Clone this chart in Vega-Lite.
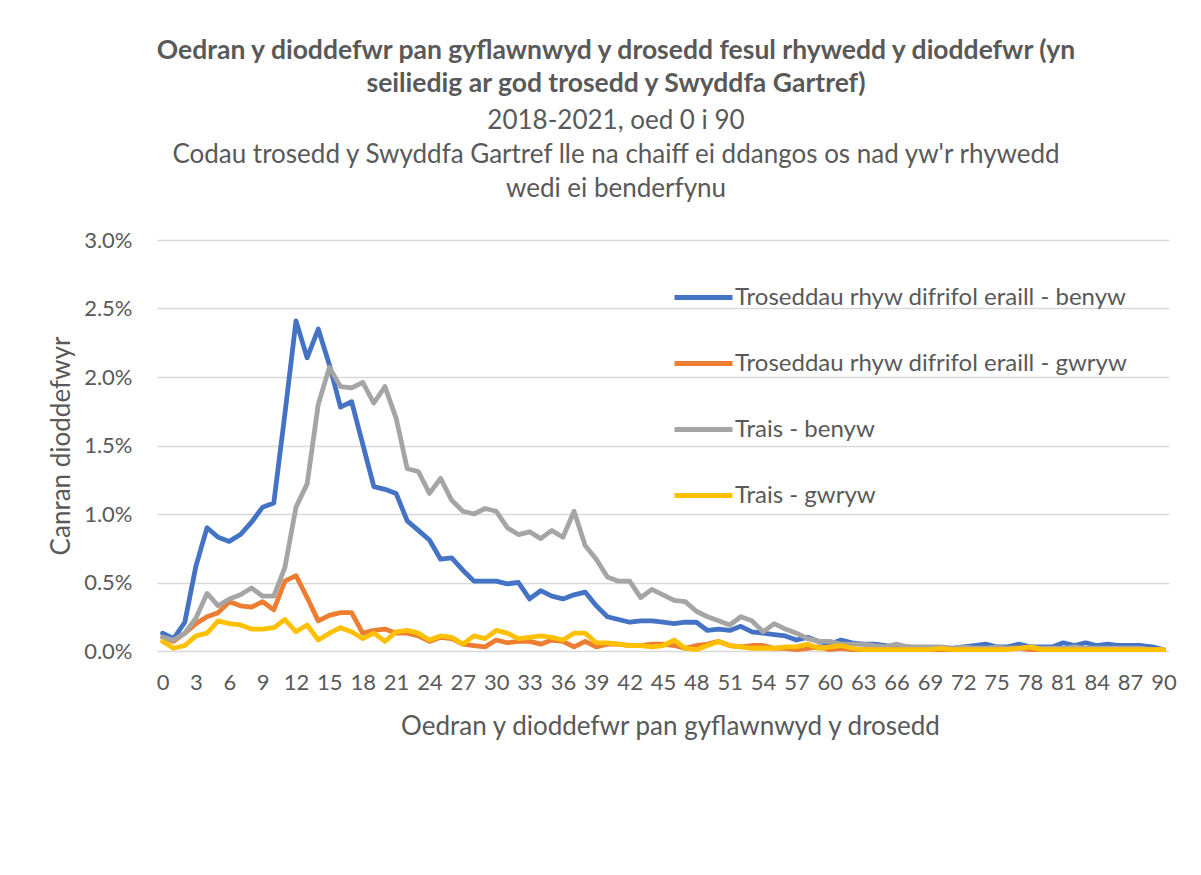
{
  "$schema": "https://vega.github.io/schema/vega-lite/v6.json",
  "width": 1012,
  "height": 411,
  "autosize": {"type": "none"},
  "padding": {"left": 157, "top": 240, "right": 32, "bottom": 224},
  "background": "white",
  "config": {"view": {"stroke": null}, "font": "Lato"},
  "title": {
    "text": ["Oedran y dioddefwr pan gyflawnwyd y drosedd fesul rhywedd y dioddefwr (yn", "seiliedig ar god trosedd y Swyddfa Gartref)"],
    "subtitle": ["2018-2021, oed 0 i 90", "Codau trosedd y Swyddfa Gartref lle na chaiff ei ddangos os nad yw'r rhywedd", "wedi ei benderfynu"],
    "anchor": "middle",
    "dx": -47,
    "offset": 27,
    "font": "Lato",
    "fontSize": 26.5,
    "fontWeight": "bold",
    "color": "#595959",
    "lineHeight": 33,
    "subtitleFont": "Lato",
    "subtitleFontSize": 26,
    "subtitleColor": "#595959",
    "subtitleLineHeight": 34,
    "subtitlePadding": 11
  },
  "data": {"values": [
    {"age":0,"Troseddau rhyw difrifol eraill - benyw":0.13,"Troseddau rhyw difrifol eraill - gwryw":0.10,"Trais - benyw":0.10,"Trais - gwryw":0.07},
    {"age":1,"Troseddau rhyw difrifol eraill - benyw":0.09,"Troseddau rhyw difrifol eraill - gwryw":0.07,"Trais - benyw":0.08,"Trais - gwryw":0.02},
    {"age":2,"Troseddau rhyw difrifol eraill - benyw":0.21,"Troseddau rhyw difrifol eraill - gwryw":0.13,"Trais - benyw":0.13,"Trais - gwryw":0.04},
    {"age":3,"Troseddau rhyw difrifol eraill - benyw":0.62,"Troseddau rhyw difrifol eraill - gwryw":0.20,"Trais - benyw":0.24,"Trais - gwryw":0.11},
    {"age":4,"Troseddau rhyw difrifol eraill - benyw":0.90,"Troseddau rhyw difrifol eraill - gwryw":0.25,"Trais - benyw":0.42,"Trais - gwryw":0.13},
    {"age":5,"Troseddau rhyw difrifol eraill - benyw":0.83,"Troseddau rhyw difrifol eraill - gwryw":0.28,"Trais - benyw":0.33,"Trais - gwryw":0.22},
    {"age":6,"Troseddau rhyw difrifol eraill - benyw":0.80,"Troseddau rhyw difrifol eraill - gwryw":0.36,"Trais - benyw":0.38,"Trais - gwryw":0.20},
    {"age":7,"Troseddau rhyw difrifol eraill - benyw":0.85,"Troseddau rhyw difrifol eraill - gwryw":0.33,"Trais - benyw":0.41,"Trais - gwryw":0.19},
    {"age":8,"Troseddau rhyw difrifol eraill - benyw":0.94,"Troseddau rhyw difrifol eraill - gwryw":0.32,"Trais - benyw":0.46,"Trais - gwryw":0.16},
    {"age":9,"Troseddau rhyw difrifol eraill - benyw":1.05,"Troseddau rhyw difrifol eraill - gwryw":0.36,"Trais - benyw":0.40,"Trais - gwryw":0.16},
    {"age":10,"Troseddau rhyw difrifol eraill - benyw":1.08,"Troseddau rhyw difrifol eraill - gwryw":0.30,"Trais - benyw":0.40,"Trais - gwryw":0.17},
    {"age":11,"Troseddau rhyw difrifol eraill - benyw":1.73,"Troseddau rhyw difrifol eraill - gwryw":0.51,"Trais - benyw":0.61,"Trais - gwryw":0.23},
    {"age":12,"Troseddau rhyw difrifol eraill - benyw":2.41,"Troseddau rhyw difrifol eraill - gwryw":0.55,"Trais - benyw":1.05,"Trais - gwryw":0.14},
    {"age":13,"Troseddau rhyw difrifol eraill - benyw":2.14,"Troseddau rhyw difrifol eraill - gwryw":0.39,"Trais - benyw":1.22,"Trais - gwryw":0.19},
    {"age":14,"Troseddau rhyw difrifol eraill - benyw":2.35,"Troseddau rhyw difrifol eraill - gwryw":0.22,"Trais - benyw":1.80,"Trais - gwryw":0.08},
    {"age":15,"Troseddau rhyw difrifol eraill - benyw":2.09,"Troseddau rhyw difrifol eraill - gwryw":0.26,"Trais - benyw":2.07,"Trais - gwryw":0.13},
    {"age":16,"Troseddau rhyw difrifol eraill - benyw":1.78,"Troseddau rhyw difrifol eraill - gwryw":0.28,"Trais - benyw":1.93,"Trais - gwryw":0.17},
    {"age":17,"Troseddau rhyw difrifol eraill - benyw":1.82,"Troseddau rhyw difrifol eraill - gwryw":0.28,"Trais - benyw":1.92,"Trais - gwryw":0.14},
    {"age":18,"Troseddau rhyw difrifol eraill - benyw":1.51,"Troseddau rhyw difrifol eraill - gwryw":0.13,"Trais - benyw":1.96,"Trais - gwryw":0.09},
    {"age":19,"Troseddau rhyw difrifol eraill - benyw":1.20,"Troseddau rhyw difrifol eraill - gwryw":0.15,"Trais - benyw":1.81,"Trais - gwryw":0.13},
    {"age":20,"Troseddau rhyw difrifol eraill - benyw":1.18,"Troseddau rhyw difrifol eraill - gwryw":0.16,"Trais - benyw":1.93,"Trais - gwryw":0.07},
    {"age":21,"Troseddau rhyw difrifol eraill - benyw":1.15,"Troseddau rhyw difrifol eraill - gwryw":0.13,"Trais - benyw":1.70,"Trais - gwryw":0.14},
    {"age":22,"Troseddau rhyw difrifol eraill - benyw":0.95,"Troseddau rhyw difrifol eraill - gwryw":0.13,"Trais - benyw":1.33,"Trais - gwryw":0.15},
    {"age":23,"Troseddau rhyw difrifol eraill - benyw":0.88,"Troseddau rhyw difrifol eraill - gwryw":0.11,"Trais - benyw":1.31,"Trais - gwryw":0.13},
    {"age":24,"Troseddau rhyw difrifol eraill - benyw":0.81,"Troseddau rhyw difrifol eraill - gwryw":0.07,"Trais - benyw":1.15,"Trais - gwryw":0.08},
    {"age":25,"Troseddau rhyw difrifol eraill - benyw":0.67,"Troseddau rhyw difrifol eraill - gwryw":0.10,"Trais - benyw":1.26,"Trais - gwryw":0.11},
    {"age":26,"Troseddau rhyw difrifol eraill - benyw":0.68,"Troseddau rhyw difrifol eraill - gwryw":0.09,"Trais - benyw":1.10,"Trais - gwryw":0.10},
    {"age":27,"Troseddau rhyw difrifol eraill - benyw":0.59,"Troseddau rhyw difrifol eraill - gwryw":0.05,"Trais - benyw":1.02,"Trais - gwryw":0.05},
    {"age":28,"Troseddau rhyw difrifol eraill - benyw":0.51,"Troseddau rhyw difrifol eraill - gwryw":0.04,"Trais - benyw":1.00,"Trais - gwryw":0.11},
    {"age":29,"Troseddau rhyw difrifol eraill - benyw":0.51,"Troseddau rhyw difrifol eraill - gwryw":0.03,"Trais - benyw":1.04,"Trais - gwryw":0.09},
    {"age":30,"Troseddau rhyw difrifol eraill - benyw":0.51,"Troseddau rhyw difrifol eraill - gwryw":0.08,"Trais - benyw":1.02,"Trais - gwryw":0.15},
    {"age":31,"Troseddau rhyw difrifol eraill - benyw":0.49,"Troseddau rhyw difrifol eraill - gwryw":0.06,"Trais - benyw":0.90,"Trais - gwryw":0.13},
    {"age":32,"Troseddau rhyw difrifol eraill - benyw":0.50,"Troseddau rhyw difrifol eraill - gwryw":0.07,"Trais - benyw":0.85,"Trais - gwryw":0.09},
    {"age":33,"Troseddau rhyw difrifol eraill - benyw":0.38,"Troseddau rhyw difrifol eraill - gwryw":0.07,"Trais - benyw":0.87,"Trais - gwryw":0.10},
    {"age":34,"Troseddau rhyw difrifol eraill - benyw":0.44,"Troseddau rhyw difrifol eraill - gwryw":0.05,"Trais - benyw":0.82,"Trais - gwryw":0.11},
    {"age":35,"Troseddau rhyw difrifol eraill - benyw":0.40,"Troseddau rhyw difrifol eraill - gwryw":0.08,"Trais - benyw":0.88,"Trais - gwryw":0.10},
    {"age":36,"Troseddau rhyw difrifol eraill - benyw":0.38,"Troseddau rhyw difrifol eraill - gwryw":0.07,"Trais - benyw":0.83,"Trais - gwryw":0.08},
    {"age":37,"Troseddau rhyw difrifol eraill - benyw":0.41,"Troseddau rhyw difrifol eraill - gwryw":0.03,"Trais - benyw":1.02,"Trais - gwryw":0.13},
    {"age":38,"Troseddau rhyw difrifol eraill - benyw":0.43,"Troseddau rhyw difrifol eraill - gwryw":0.07,"Trais - benyw":0.77,"Trais - gwryw":0.13},
    {"age":39,"Troseddau rhyw difrifol eraill - benyw":0.33,"Troseddau rhyw difrifol eraill - gwryw":0.03,"Trais - benyw":0.67,"Trais - gwryw":0.06},
    {"age":40,"Troseddau rhyw difrifol eraill - benyw":0.25,"Troseddau rhyw difrifol eraill - gwryw":0.05,"Trais - benyw":0.54,"Trais - gwryw":0.06},
    {"age":41,"Troseddau rhyw difrifol eraill - benyw":0.23,"Troseddau rhyw difrifol eraill - gwryw":0.05,"Trais - benyw":0.51,"Trais - gwryw":0.05},
    {"age":42,"Troseddau rhyw difrifol eraill - benyw":0.21,"Troseddau rhyw difrifol eraill - gwryw":0.04,"Trais - benyw":0.51,"Trais - gwryw":0.04},
    {"age":43,"Troseddau rhyw difrifol eraill - benyw":0.22,"Troseddau rhyw difrifol eraill - gwryw":0.04,"Trais - benyw":0.39,"Trais - gwryw":0.04},
    {"age":44,"Troseddau rhyw difrifol eraill - benyw":0.22,"Troseddau rhyw difrifol eraill - gwryw":0.05,"Trais - benyw":0.45,"Trais - gwryw":0.03},
    {"age":45,"Troseddau rhyw difrifol eraill - benyw":0.21,"Troseddau rhyw difrifol eraill - gwryw":0.05,"Trais - benyw":0.41,"Trais - gwryw":0.04},
    {"age":46,"Troseddau rhyw difrifol eraill - benyw":0.20,"Troseddau rhyw difrifol eraill - gwryw":0.04,"Trais - benyw":0.37,"Trais - gwryw":0.08},
    {"age":47,"Troseddau rhyw difrifol eraill - benyw":0.21,"Troseddau rhyw difrifol eraill - gwryw":0.02,"Trais - benyw":0.36,"Trais - gwryw":0.02},
    {"age":48,"Troseddau rhyw difrifol eraill - benyw":0.21,"Troseddau rhyw difrifol eraill - gwryw":0.04,"Trais - benyw":0.29,"Trais - gwryw":0.01},
    {"age":49,"Troseddau rhyw difrifol eraill - benyw":0.15,"Troseddau rhyw difrifol eraill - gwryw":0.05,"Trais - benyw":0.25,"Trais - gwryw":0.04},
    {"age":50,"Troseddau rhyw difrifol eraill - benyw":0.16,"Troseddau rhyw difrifol eraill - gwryw":0.07,"Trais - benyw":0.22,"Trais - gwryw":0.07},
    {"age":51,"Troseddau rhyw difrifol eraill - benyw":0.15,"Troseddau rhyw difrifol eraill - gwryw":0.04,"Trais - benyw":0.19,"Trais - gwryw":0.04},
    {"age":52,"Troseddau rhyw difrifol eraill - benyw":0.18,"Troseddau rhyw difrifol eraill - gwryw":0.03,"Trais - benyw":0.25,"Trais - gwryw":0.03},
    {"age":53,"Troseddau rhyw difrifol eraill - benyw":0.14,"Troseddau rhyw difrifol eraill - gwryw":0.04,"Trais - benyw":0.22,"Trais - gwryw":0.02},
    {"age":54,"Troseddau rhyw difrifol eraill - benyw":0.13,"Troseddau rhyw difrifol eraill - gwryw":0.04,"Trais - benyw":0.14,"Trais - gwryw":0.02},
    {"age":55,"Troseddau rhyw difrifol eraill - benyw":0.12,"Troseddau rhyw difrifol eraill - gwryw":0.02,"Trais - benyw":0.20,"Trais - gwryw":0.02},
    {"age":56,"Troseddau rhyw difrifol eraill - benyw":0.11,"Troseddau rhyw difrifol eraill - gwryw":0.02,"Trais - benyw":0.16,"Trais - gwryw":0.03},
    {"age":57,"Troseddau rhyw difrifol eraill - benyw":0.08,"Troseddau rhyw difrifol eraill - gwryw":0.01,"Trais - benyw":0.13,"Trais - gwryw":0.03},
    {"age":58,"Troseddau rhyw difrifol eraill - benyw":0.10,"Troseddau rhyw difrifol eraill - gwryw":0.02,"Trais - benyw":0.09,"Trais - gwryw":0.05},
    {"age":59,"Troseddau rhyw difrifol eraill - benyw":0.07,"Troseddau rhyw difrifol eraill - gwryw":0.03,"Trais - benyw":0.07,"Trais - gwryw":0.02},
    {"age":60,"Troseddau rhyw difrifol eraill - benyw":0.05,"Troseddau rhyw difrifol eraill - gwryw":0.01,"Trais - benyw":0.07,"Trais - gwryw":0.03},
    {"age":61,"Troseddau rhyw difrifol eraill - benyw":0.08,"Troseddau rhyw difrifol eraill - gwryw":0.02,"Trais - benyw":0.05,"Trais - gwryw":0.04},
    {"age":62,"Troseddau rhyw difrifol eraill - benyw":0.06,"Troseddau rhyw difrifol eraill - gwryw":0.01,"Trais - benyw":0.05,"Trais - gwryw":0.02},
    {"age":63,"Troseddau rhyw difrifol eraill - benyw":0.05,"Troseddau rhyw difrifol eraill - gwryw":0.01,"Trais - benyw":0.05,"Trais - gwryw":0.01},
    {"age":64,"Troseddau rhyw difrifol eraill - benyw":0.05,"Troseddau rhyw difrifol eraill - gwryw":0.01,"Trais - benyw":0.04,"Trais - gwryw":0.01},
    {"age":65,"Troseddau rhyw difrifol eraill - benyw":0.04,"Troseddau rhyw difrifol eraill - gwryw":0.01,"Trais - benyw":0.03,"Trais - gwryw":0.01},
    {"age":66,"Troseddau rhyw difrifol eraill - benyw":0.03,"Troseddau rhyw difrifol eraill - gwryw":0.01,"Trais - benyw":0.05,"Trais - gwryw":0.01},
    {"age":67,"Troseddau rhyw difrifol eraill - benyw":0.03,"Troseddau rhyw difrifol eraill - gwryw":0.01,"Trais - benyw":0.03,"Trais - gwryw":0.01},
    {"age":68,"Troseddau rhyw difrifol eraill - benyw":0.02,"Troseddau rhyw difrifol eraill - gwryw":0.01,"Trais - benyw":0.03,"Trais - gwryw":0.01},
    {"age":69,"Troseddau rhyw difrifol eraill - benyw":0.02,"Troseddau rhyw difrifol eraill - gwryw":0.01,"Trais - benyw":0.03,"Trais - gwryw":0.01},
    {"age":70,"Troseddau rhyw difrifol eraill - benyw":0.02,"Troseddau rhyw difrifol eraill - gwryw":0.01,"Trais - benyw":0.03,"Trais - gwryw":0.02},
    {"age":71,"Troseddau rhyw difrifol eraill - benyw":0.02,"Troseddau rhyw difrifol eraill - gwryw":0.01,"Trais - benyw":0.02,"Trais - gwryw":0.01},
    {"age":72,"Troseddau rhyw difrifol eraill - benyw":0.03,"Troseddau rhyw difrifol eraill - gwryw":0.01,"Trais - benyw":0.03,"Trais - gwryw":0.01},
    {"age":73,"Troseddau rhyw difrifol eraill - benyw":0.04,"Troseddau rhyw difrifol eraill - gwryw":0.01,"Trais - benyw":0.02,"Trais - gwryw":0.01},
    {"age":74,"Troseddau rhyw difrifol eraill - benyw":0.05,"Troseddau rhyw difrifol eraill - gwryw":0.02,"Trais - benyw":0.02,"Trais - gwryw":0.01},
    {"age":75,"Troseddau rhyw difrifol eraill - benyw":0.03,"Troseddau rhyw difrifol eraill - gwryw":0.01,"Trais - benyw":0.03,"Trais - gwryw":0.01},
    {"age":76,"Troseddau rhyw difrifol eraill - benyw":0.03,"Troseddau rhyw difrifol eraill - gwryw":0.02,"Trais - benyw":0.02,"Trais - gwryw":0.01},
    {"age":77,"Troseddau rhyw difrifol eraill - benyw":0.05,"Troseddau rhyw difrifol eraill - gwryw":0.02,"Trais - benyw":0.02,"Trais - gwryw":0.02},
    {"age":78,"Troseddau rhyw difrifol eraill - benyw":0.03,"Troseddau rhyw difrifol eraill - gwryw":0.01,"Trais - benyw":0.03,"Trais - gwryw":0.03},
    {"age":79,"Troseddau rhyw difrifol eraill - benyw":0.03,"Troseddau rhyw difrifol eraill - gwryw":0.01,"Trais - benyw":0.02,"Trais - gwryw":0.01},
    {"age":80,"Troseddau rhyw difrifol eraill - benyw":0.03,"Troseddau rhyw difrifol eraill - gwryw":0.01,"Trais - benyw":0.02,"Trais - gwryw":0.01},
    {"age":81,"Troseddau rhyw difrifol eraill - benyw":0.06,"Troseddau rhyw difrifol eraill - gwryw":0.01,"Trais - benyw":0.02,"Trais - gwryw":0.01},
    {"age":82,"Troseddau rhyw difrifol eraill - benyw":0.04,"Troseddau rhyw difrifol eraill - gwryw":0.01,"Trais - benyw":0.03,"Trais - gwryw":0.01},
    {"age":83,"Troseddau rhyw difrifol eraill - benyw":0.06,"Troseddau rhyw difrifol eraill - gwryw":0.01,"Trais - benyw":0.02,"Trais - gwryw":0.01},
    {"age":84,"Troseddau rhyw difrifol eraill - benyw":0.04,"Troseddau rhyw difrifol eraill - gwryw":0.01,"Trais - benyw":0.02,"Trais - gwryw":0.01},
    {"age":85,"Troseddau rhyw difrifol eraill - benyw":0.05,"Troseddau rhyw difrifol eraill - gwryw":0.01,"Trais - benyw":0.02,"Trais - gwryw":0.01},
    {"age":86,"Troseddau rhyw difrifol eraill - benyw":0.04,"Troseddau rhyw difrifol eraill - gwryw":0.01,"Trais - benyw":0.02,"Trais - gwryw":0.01},
    {"age":87,"Troseddau rhyw difrifol eraill - benyw":0.04,"Troseddau rhyw difrifol eraill - gwryw":0.01,"Trais - benyw":0.02,"Trais - gwryw":0.01},
    {"age":88,"Troseddau rhyw difrifol eraill - benyw":0.04,"Troseddau rhyw difrifol eraill - gwryw":0.01,"Trais - benyw":0.02,"Trais - gwryw":0.01},
    {"age":89,"Troseddau rhyw difrifol eraill - benyw":0.03,"Troseddau rhyw difrifol eraill - gwryw":0.01,"Trais - benyw":0.01,"Trais - gwryw":0.01},
    {"age":90,"Troseddau rhyw difrifol eraill - benyw":0.01,"Troseddau rhyw difrifol eraill - gwryw":0.01,"Trais - benyw":0.01,"Trais - gwryw":0.01}
  ]},
  "transform": [
    {"fold": ["Troseddau rhyw difrifol eraill - benyw", "Troseddau rhyw difrifol eraill - gwryw", "Trais - benyw", "Trais - gwryw"], "as": ["series", "pct"]}
  ],
  "mark": {"type": "line", "strokeWidth": 4.8, "strokeCap": "round", "strokeJoin": "round"},
  "encoding": {
    "x": {
      "field": "age", "type": "quantitative",
      "scale": {"domain": [-0.5, 90.5], "nice": false, "zero": false},
      "axis": {
        "values": [0,3,6,9,12,15,18,21,24,27,30,33,36,39,42,45,48,51,54,57,60,63,66,69,72,75,78,81,84,87,90],
        "grid": false, "ticks": false, "domain": false,
        "labelFontSize": 22, "labelColor": "#595959", "labelPadding": 21,
        "labelFlush": false, "labelOverlap": false, "labelFont": "Lato",
        "title": "Oedran y dioddefwr pan gyflawnwyd y drosedd",
        "titleFont": "Lato", "titleFontSize": 26, "titleFontWeight": "normal", "titleColor": "#595959",
        "titleX": 513, "titleY": 83, "titleAlign": "center", "titleBaseline": "alphabetic"
      }
    },
    "y": {
      "field": "pct", "type": "quantitative",
      "scale": {"domain": [0, 3], "nice": false},
      "axis": {
        "values": [0, 0.5, 1, 1.5, 2, 2.5, 3],
        "labelExpr": "format(datum.value, '.1f') + '%'",
        "grid": true, "gridColor": "#d9d9d9", "gridWidth": 1.5,
        "ticks": false, "domain": false,
        "labelFontSize": 22, "labelColor": "#595959", "labelPadding": 25, "labelFont": "Lato",
        "title": "Canran dioddefwyr",
        "titleFont": "Lato", "titleFontSize": 26, "titleFontWeight": "normal", "titleColor": "#595959",
        "titleAngle": -90, "titleX": -88, "titleY": 205.5, "titleAlign": "center", "titleBaseline": "alphabetic"
      }
    },
    "color": {
      "field": "series", "type": "nominal",
      "scale": {
        "domain": ["Troseddau rhyw difrifol eraill - benyw", "Troseddau rhyw difrifol eraill - gwryw", "Trais - benyw", "Trais - gwryw"],
        "range": ["#4472C4", "#ED7D31", "#A5A5A5", "#FFC000"]
      },
      "legend": {
        "orient": "none", "legendX": 515, "legendY": 26, "direction": "vertical",
        "title": null, "padding": 0,
        "symbolType": "stroke", "symbolSize": 3364, "symbolStrokeWidth": 4.8,
        "labelFontSize": 24, "labelColor": "#595959", "labelFont": "Lato", "labelOffset": 0,
        "labelLimit": 600, "rowPadding": 22
      }
    }
  }
}
